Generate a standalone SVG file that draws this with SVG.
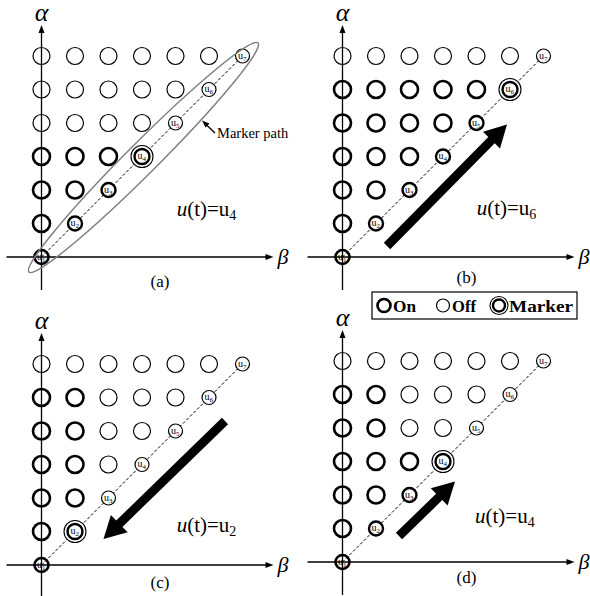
<svg xmlns="http://www.w3.org/2000/svg" xmlns:xlink="http://www.w3.org/1999/xlink" width="590" height="596" viewBox="0 0 590 596">
<style>
.on{fill:none;stroke:#000;stroke-width:2.6}
.off{fill:none;stroke:#000;stroke-width:1.2}
.lon{fill:#fff;stroke:#000;stroke-width:2.4}
.loff{fill:#fff;stroke:#000;stroke-width:1.2}
.mo{fill:#fff;stroke:#000;stroke-width:1.1}
.ax{stroke:#000;stroke-width:1.3;fill:none}
.dash{stroke:#000;stroke-width:1;stroke-dasharray:3 2;fill:none}
text{font-family:"Liberation Serif","Times New Roman",serif;fill:#000}
.ul{font-size:10px}
.sub{font-size:7px}
.ga{font-size:26px;font-style:italic}
.gb{font-size:22px;font-style:italic}
.eq{font-size:21px}
.cap{font-size:17px;text-anchor:middle}
.lg{font-size:17px;font-weight:bold}
.big{fill:#000}
</style>
<defs>
<g id="axes">
<line class="ax" x1="0" y1="33" x2="0" y2="-226"/>
<polygon points="0,-232 -3,-224 3,-224" fill="#000"/>
<line class="ax" x1="-35" y1="0" x2="226" y2="0"/>
<polygon points="232,0 224,-3 224,3" fill="#000"/>
<text class="ga" x="0" y="-236" text-anchor="middle">α</text>
<text class="gb" x="236" y="7">β</text>
</g>
<line id="diag" class="dash" x1="0" y1="0" x2="201" y2="-201"/>
</defs>

<!-- Panel (a) -->
<g id="panel-a" transform="translate(41.5,257)">
<use xlink:href="#diag"/>
<g id="a-r1c0"><circle class="on" cx="0" cy="-33.5" r="8.5"/></g>
<g id="a-r2c0"><circle class="on" cx="0" cy="-67" r="8.5"/></g>
<g id="a-r2c1"><circle class="on" cx="33.5" cy="-67" r="8.5"/></g>
<g id="a-r3c0"><circle class="on" cx="0" cy="-100.5" r="8.5"/></g>
<g id="a-r3c1"><circle class="on" cx="33.5" cy="-100.5" r="8.5"/></g>
<g id="a-r3c2"><circle class="on" cx="67" cy="-100.5" r="8.5"/></g>
<g id="a-r4c0"><circle class="off" cx="0" cy="-134" r="8.5"/></g>
<g id="a-r4c1"><circle class="off" cx="33.5" cy="-134" r="8.5"/></g>
<g id="a-r4c2"><circle class="off" cx="67" cy="-134" r="8.5"/></g>
<g id="a-r4c3"><circle class="off" cx="100.5" cy="-134" r="8.5"/></g>
<g id="a-r5c0"><circle class="off" cx="0" cy="-167.5" r="8.5"/></g>
<g id="a-r5c1"><circle class="off" cx="33.5" cy="-167.5" r="8.5"/></g>
<g id="a-r5c2"><circle class="off" cx="67" cy="-167.5" r="8.5"/></g>
<g id="a-r5c3"><circle class="off" cx="100.5" cy="-167.5" r="8.5"/></g>
<g id="a-r5c4"><circle class="off" cx="134" cy="-167.5" r="8.5"/></g>
<g id="a-r6c0"><circle class="off" cx="0" cy="-201" r="8.5"/></g>
<g id="a-r6c1"><circle class="off" cx="33.5" cy="-201" r="8.5"/></g>
<g id="a-r6c2"><circle class="off" cx="67" cy="-201" r="8.5"/></g>
<g id="a-r6c3"><circle class="off" cx="100.5" cy="-201" r="8.5"/></g>
<g id="a-r6c4"><circle class="off" cx="134" cy="-201" r="8.5"/></g>
<g id="a-r6c5"><circle class="off" cx="167.5" cy="-201" r="8.5"/></g>
<g id="a-u1"><circle class="on" cx="0" cy="0" r="7"/><text class="ul" x="-4.5" y="2.5">u<tspan class="sub" dy="2">1</tspan></text></g>
<g id="a-u2"><circle class="lon" cx="33.5" cy="-33.5" r="7"/><text class="ul" x="29" y="-31">u<tspan class="sub" dy="2">2</tspan></text></g>
<g id="a-u3"><circle class="lon" cx="67" cy="-67" r="7"/><text class="ul" x="62.5" y="-64.5">u<tspan class="sub" dy="2">3</tspan></text></g>
<g id="a-u4"><circle class="mo" cx="100.5" cy="-100.5" r="11"/><circle class="lon" cx="100.5" cy="-100.5" r="7.5"/><text class="ul" x="96" y="-98">u<tspan class="sub" dy="2">4</tspan></text></g>
<g id="a-u5"><circle class="loff" cx="134" cy="-134" r="7"/><text class="ul" x="129.5" y="-131.5">u<tspan class="sub" dy="2">5</tspan></text></g>
<g id="a-u6"><circle class="loff" cx="167.5" cy="-167.5" r="7"/><text class="ul" x="163" y="-165">u<tspan class="sub" dy="2">6</tspan></text></g>
<g id="a-u7"><circle class="loff" cx="201" cy="-201" r="7"/><text class="ul" x="196.5" y="-198.5">u<tspan class="sub" dy="2">7</tspan></text></g>
<use xlink:href="#axes"/>
</g>
<g id="marker-path">
<ellipse cx="143.5" cy="157.5" rx="162" ry="15.5" transform="rotate(-45 143.5 157.5)" fill="none" stroke="#808080" stroke-width="1.5"/>
<line x1="215" y1="133" x2="206" y2="124.5" stroke="#000" stroke-width="1.3"/>
<polygon points="202,120.5 209.5,123.5 205.5,127.5" fill="#000"/>
<text x="217" y="137.5" font-size="14.5">Marker path</text>
</g>
<text class="eq" x="176.7" y="216"><tspan font-style="italic">u</tspan>(t)=u<tspan font-size="14" dy="4">4</tspan></text>
<text class="cap" x="160" y="287">(a)</text>

<!-- Panel (b) -->
<g id="panel-b" transform="translate(342.5,257)">
<use xlink:href="#diag"/>
<g id="b-r1c0"><circle class="on" cx="0" cy="-33.5" r="8.5"/></g>
<g id="b-r2c0"><circle class="on" cx="0" cy="-67" r="8.5"/></g>
<g id="b-r2c1"><circle class="on" cx="33.5" cy="-67" r="8.5"/></g>
<g id="b-r3c0"><circle class="on" cx="0" cy="-100.5" r="8.5"/></g>
<g id="b-r3c1"><circle class="on" cx="33.5" cy="-100.5" r="8.5"/></g>
<g id="b-r3c2"><circle class="on" cx="67" cy="-100.5" r="8.5"/></g>
<g id="b-r4c0"><circle class="on" cx="0" cy="-134" r="8.5"/></g>
<g id="b-r4c1"><circle class="on" cx="33.5" cy="-134" r="8.5"/></g>
<g id="b-r4c2"><circle class="on" cx="67" cy="-134" r="8.5"/></g>
<g id="b-r4c3"><circle class="on" cx="100.5" cy="-134" r="8.5"/></g>
<g id="b-r5c0"><circle class="on" cx="0" cy="-167.5" r="8.5"/></g>
<g id="b-r5c1"><circle class="on" cx="33.5" cy="-167.5" r="8.5"/></g>
<g id="b-r5c2"><circle class="on" cx="67" cy="-167.5" r="8.5"/></g>
<g id="b-r5c3"><circle class="on" cx="100.5" cy="-167.5" r="8.5"/></g>
<g id="b-r5c4"><circle class="on" cx="134" cy="-167.5" r="8.5"/></g>
<g id="b-r6c0"><circle class="off" cx="0" cy="-201" r="8.5"/></g>
<g id="b-r6c1"><circle class="off" cx="33.5" cy="-201" r="8.5"/></g>
<g id="b-r6c2"><circle class="off" cx="67" cy="-201" r="8.5"/></g>
<g id="b-r6c3"><circle class="off" cx="100.5" cy="-201" r="8.5"/></g>
<g id="b-r6c4"><circle class="off" cx="134" cy="-201" r="8.5"/></g>
<g id="b-r6c5"><circle class="off" cx="167.5" cy="-201" r="8.5"/></g>
<g id="b-u1"><circle class="on" cx="0" cy="0" r="7"/><text class="ul" x="-4.5" y="2.5">u<tspan class="sub" dy="2">1</tspan></text></g>
<g id="b-u2"><circle class="lon" cx="33.5" cy="-33.5" r="7"/><text class="ul" x="29" y="-31">u<tspan class="sub" dy="2">2</tspan></text></g>
<g id="b-u3"><circle class="lon" cx="67" cy="-67" r="7"/><text class="ul" x="62.5" y="-64.5">u<tspan class="sub" dy="2">3</tspan></text></g>
<g id="b-u4"><circle class="lon" cx="100.5" cy="-100.5" r="7"/><text class="ul" x="96" y="-98">u<tspan class="sub" dy="2">4</tspan></text></g>
<g id="b-u5"><circle class="lon" cx="134" cy="-134" r="7"/><text class="ul" x="129.5" y="-131.5">u<tspan class="sub" dy="2">5</tspan></text></g>
<g id="b-u6"><circle class="mo" cx="167.5" cy="-167.5" r="11"/><circle class="lon" cx="167.5" cy="-167.5" r="7.5"/><text class="ul" x="163" y="-165">u<tspan class="sub" dy="2">6</tspan></text></g>
<g id="b-u7"><circle class="loff" cx="201" cy="-201" r="7"/><text class="ul" x="196.5" y="-198.5">u<tspan class="sub" dy="2">7</tspan></text></g>
<use xlink:href="#axes"/>
</g>
<polygon class="big" points="383.8,242.8 488.3,136.9 483,131.7 507,124.5 500,148.5 494.7,143.3 390.2,249.2"/>
<text class="eq" x="476.7" y="215"><tspan font-style="italic">u</tspan>(t)=u<tspan font-size="14" dy="4">6</tspan></text>
<text class="cap" x="466.5" y="283">(b)</text>

<!-- Legend -->
<g id="legend">
<rect x="372" y="292" width="205" height="27" fill="#fff" stroke="#000" stroke-width="1.2"/>
<circle class="on" cx="384" cy="305.5" r="6.5"/>
<text class="lg" x="393" y="311.5" textLength="23" lengthAdjust="spacingAndGlyphs">On</text>
<circle class="off" cx="443" cy="305.5" r="6.5"/>
<text class="lg" x="452" y="311.5" textLength="24" lengthAdjust="spacingAndGlyphs">Off</text>
<circle class="mo" cx="499" cy="305.5" r="9"/>
<circle class="lon" cx="499" cy="305.5" r="6"/>
<text class="lg" x="509" y="311.5" textLength="64" lengthAdjust="spacingAndGlyphs">Marker</text>
</g>

<!-- Panel (c) -->
<g id="panel-c" transform="translate(41.5,565)">
<use xlink:href="#diag"/>
<g id="c-r1c0"><circle class="on" cx="0" cy="-33.5" r="8.5"/></g>
<g id="c-r2c0"><circle class="on" cx="0" cy="-67" r="8.5"/></g>
<g id="c-r2c1"><circle class="on" cx="33.5" cy="-67" r="8.5"/></g>
<g id="c-r3c0"><circle class="on" cx="0" cy="-100.5" r="8.5"/></g>
<g id="c-r3c1"><circle class="on" cx="33.5" cy="-100.5" r="8.5"/></g>
<g id="c-r3c2"><circle class="off" cx="67" cy="-100.5" r="8.5"/></g>
<g id="c-r4c0"><circle class="on" cx="0" cy="-134" r="8.5"/></g>
<g id="c-r4c1"><circle class="on" cx="33.5" cy="-134" r="8.5"/></g>
<g id="c-r4c2"><circle class="off" cx="67" cy="-134" r="8.5"/></g>
<g id="c-r4c3"><circle class="off" cx="100.5" cy="-134" r="8.5"/></g>
<g id="c-r5c0"><circle class="on" cx="0" cy="-167.5" r="8.5"/></g>
<g id="c-r5c1"><circle class="on" cx="33.5" cy="-167.5" r="8.5"/></g>
<g id="c-r5c2"><circle class="off" cx="67" cy="-167.5" r="8.5"/></g>
<g id="c-r5c3"><circle class="off" cx="100.5" cy="-167.5" r="8.5"/></g>
<g id="c-r5c4"><circle class="off" cx="134" cy="-167.5" r="8.5"/></g>
<g id="c-r6c0"><circle class="off" cx="0" cy="-201" r="8.5"/></g>
<g id="c-r6c1"><circle class="off" cx="33.5" cy="-201" r="8.5"/></g>
<g id="c-r6c2"><circle class="off" cx="67" cy="-201" r="8.5"/></g>
<g id="c-r6c3"><circle class="off" cx="100.5" cy="-201" r="8.5"/></g>
<g id="c-r6c4"><circle class="off" cx="134" cy="-201" r="8.5"/></g>
<g id="c-r6c5"><circle class="off" cx="167.5" cy="-201" r="8.5"/></g>
<g id="c-u1"><circle class="on" cx="0" cy="0" r="7"/><text class="ul" x="-4.5" y="2.5">u<tspan class="sub" dy="2">1</tspan></text></g>
<g id="c-u2"><circle class="mo" cx="33.5" cy="-33.5" r="11"/><circle class="lon" cx="33.5" cy="-33.5" r="7.5"/><text class="ul" x="29" y="-31">u<tspan class="sub" dy="2">2</tspan></text></g>
<g id="c-u3"><circle class="loff" cx="67" cy="-67" r="7"/><text class="ul" x="62.5" y="-64.5">u<tspan class="sub" dy="2">3</tspan></text></g>
<g id="c-u4"><circle class="loff" cx="100.5" cy="-100.5" r="7"/><text class="ul" x="96" y="-98">u<tspan class="sub" dy="2">4</tspan></text></g>
<g id="c-u5"><circle class="loff" cx="134" cy="-134" r="7"/><text class="ul" x="129.5" y="-131.5">u<tspan class="sub" dy="2">5</tspan></text></g>
<g id="c-u6"><circle class="loff" cx="167.5" cy="-167.5" r="7"/><text class="ul" x="163" y="-165">u<tspan class="sub" dy="2">6</tspan></text></g>
<g id="c-u7"><circle class="loff" cx="201" cy="-201" r="7"/><text class="ul" x="196.5" y="-198.5">u<tspan class="sub" dy="2">7</tspan></text></g>
<use xlink:href="#axes"/>
</g>
<polygon class="big" points="221.9,417.8 116.2,520.5 110.9,515.1 103.5,539 127.7,532.3 122.4,526.9 228.1,424.2"/>
<text class="eq" x="176.7" y="531.7"><tspan font-style="italic">u</tspan>(t)=u<tspan font-size="14" dy="4">2</tspan></text>
<text class="cap" x="160" y="588">(c)</text>

<!-- Panel (d) -->
<g id="panel-d" transform="translate(342.5,562)">
<use xlink:href="#diag"/>
<g id="d-r1c0"><circle class="on" cx="0" cy="-33.5" r="8.5"/></g>
<g id="d-r2c0"><circle class="on" cx="0" cy="-67" r="8.5"/></g>
<g id="d-r2c1"><circle class="on" cx="33.5" cy="-67" r="8.5"/></g>
<g id="d-r3c0"><circle class="on" cx="0" cy="-100.5" r="8.5"/></g>
<g id="d-r3c1"><circle class="on" cx="33.5" cy="-100.5" r="8.5"/></g>
<g id="d-r3c2"><circle class="on" cx="67" cy="-100.5" r="8.5"/></g>
<g id="d-r4c0"><circle class="on" cx="0" cy="-134" r="8.5"/></g>
<g id="d-r4c1"><circle class="on" cx="33.5" cy="-134" r="8.5"/></g>
<g id="d-r4c2"><circle class="off" cx="67" cy="-134" r="8.5"/></g>
<g id="d-r4c3"><circle class="off" cx="100.5" cy="-134" r="8.5"/></g>
<g id="d-r5c0"><circle class="on" cx="0" cy="-167.5" r="8.5"/></g>
<g id="d-r5c1"><circle class="on" cx="33.5" cy="-167.5" r="8.5"/></g>
<g id="d-r5c2"><circle class="off" cx="67" cy="-167.5" r="8.5"/></g>
<g id="d-r5c3"><circle class="off" cx="100.5" cy="-167.5" r="8.5"/></g>
<g id="d-r5c4"><circle class="off" cx="134" cy="-167.5" r="8.5"/></g>
<g id="d-r6c0"><circle class="off" cx="0" cy="-201" r="8.5"/></g>
<g id="d-r6c1"><circle class="off" cx="33.5" cy="-201" r="8.5"/></g>
<g id="d-r6c2"><circle class="off" cx="67" cy="-201" r="8.5"/></g>
<g id="d-r6c3"><circle class="off" cx="100.5" cy="-201" r="8.5"/></g>
<g id="d-r6c4"><circle class="off" cx="134" cy="-201" r="8.5"/></g>
<g id="d-r6c5"><circle class="off" cx="167.5" cy="-201" r="8.5"/></g>
<g id="d-u1"><circle class="on" cx="0" cy="0" r="7"/><text class="ul" x="-4.5" y="2.5">u<tspan class="sub" dy="2">1</tspan></text></g>
<g id="d-u2"><circle class="lon" cx="33.5" cy="-33.5" r="7"/><text class="ul" x="29" y="-31">u<tspan class="sub" dy="2">2</tspan></text></g>
<g id="d-u3"><circle class="lon" cx="67" cy="-67" r="7"/><text class="ul" x="62.5" y="-64.5">u<tspan class="sub" dy="2">3</tspan></text></g>
<g id="d-u4"><circle class="mo" cx="100.5" cy="-100.5" r="11"/><circle class="lon" cx="100.5" cy="-100.5" r="7.5"/><text class="ul" x="96" y="-98">u<tspan class="sub" dy="2">4</tspan></text></g>
<g id="d-u5"><circle class="loff" cx="134" cy="-134" r="7"/><text class="ul" x="129.5" y="-131.5">u<tspan class="sub" dy="2">5</tspan></text></g>
<g id="d-u6"><circle class="loff" cx="167.5" cy="-167.5" r="7"/><text class="ul" x="163" y="-165">u<tspan class="sub" dy="2">6</tspan></text></g>
<g id="d-u7"><circle class="loff" cx="201" cy="-201" r="7"/><text class="ul" x="196.5" y="-198.5">u<tspan class="sub" dy="2">7</tspan></text></g>
<use xlink:href="#axes"/>
</g>
<polygon class="big" points="395.9,532.8 436.1,493.7 430.8,488.3 455,481.5 447.6,505.5 442.3,500.1 402.1,539.2"/>
<text class="eq" x="475" y="523.3"><tspan font-style="italic">u</tspan>(t)=u<tspan font-size="14" dy="4">4</tspan></text>
<text class="cap" x="466.5" y="583">(d)</text>
</svg>
